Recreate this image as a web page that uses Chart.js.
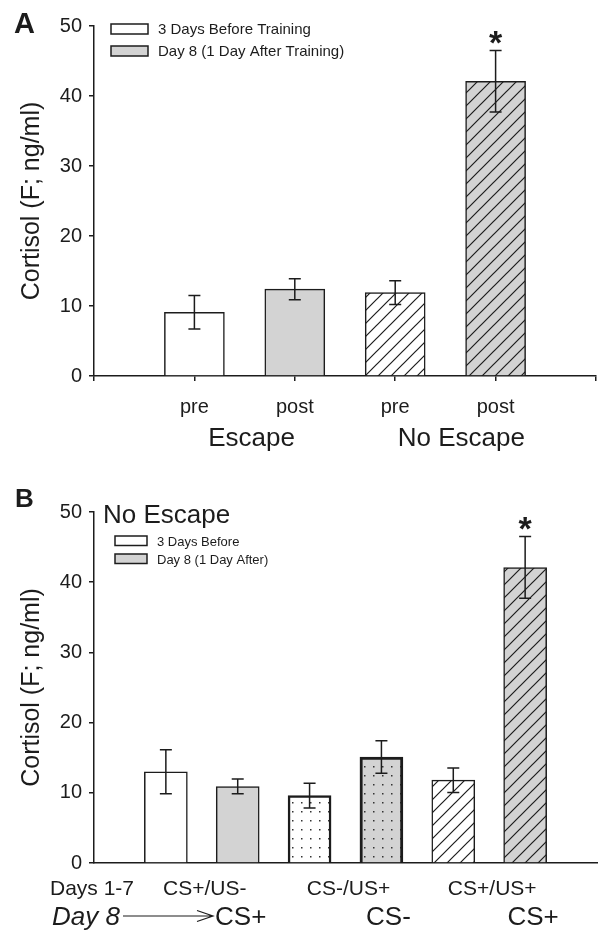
<!DOCTYPE html>
<html>
<head>
<meta charset="utf-8">
<script src="https://cdn.jsdelivr.net/npm/chart.js@4.4.0/dist/chart.umd.min.js"></script>
<style>
  html, body { margin: 0; padding: 0; background: #fff; }
  canvas { display: block; position: absolute; left: 0; }
  #chartA { top: 0; }
  #chartB { top: 465px; }
</style>
</head>
<body>
<canvas id="chartA" width="598" height="465"></canvas>
<canvas id="chartB" width="598" height="465"></canvas>
<script>
// ---- Panel A data ----
const legendA = ['3 Days Before Training', 'Day 8 (1 Day After Training)'];
const tickLabelsA = ['pre', 'post', 'pre', 'post'];
const groupsA = ['Escape', 'No Escape'];
const beforeA = [9.1, 11.9];
const beforeErrA = [2.4, 1.7];
const afterA = [12.4, 42.1];
const afterErrA = [1.5, 4.4];
const starsA = [false, true];

// ---- Panel B data ----
const legendB = ['3 Days Before', 'Day 8 (1 Day After)'];
const conditionsB = ['CS+/US-', 'CS-/US+', 'CS+/US+'];
const testedB = ['CS+', 'CS-', 'CS+'];
const beforeB = [13.0, 9.6, 11.8];
const beforeErrB = [3.15, 1.75, 1.75];
const afterB = [10.9, 15.1, 42.1];
const afterErrB = [1.05, 2.3, 4.4];
const starsB = [false, false, true];

const yTicks = { min: 0, max: 50, step: 10 };

const ink = '#1c1c1c';
const gray = '#d3d3d3';
const white = '#ffffff';
const family = "'Liberation Sans', Arial, Helvetica, sans-serif";
Chart.defaults.font.family = family;
Chart.defaults.color = ink;

// fill patterns
function hatch(bg) {
    const c = document.createElement('canvas');
    c.width = c.height = 13;
    const g = c.getContext('2d');
    g.fillStyle = bg;
    g.fillRect(0, 0, 13, 13);
    g.strokeStyle = ink;
    g.lineWidth = 1.2;
    g.beginPath();
    g.moveTo(0, 13); g.lineTo(13, 0);
    g.moveTo(-4, 4); g.lineTo(4, -4);
    g.moveTo(9, 17); g.lineTo(17, 9);
    g.stroke();
    return g.createPattern(c, 'repeat');
}
function dots(bg) {
    const c = document.createElement('canvas');
    c.width = c.height = 9;
    const g = c.getContext('2d');
    g.fillStyle = bg;
    g.fillRect(0, 0, 9, 9);
    g.fillStyle = '#333';
    g.fillRect(4, 4, 1.5, 1.5);
    return g.createPattern(c, 'repeat');
}

// error bars + significance stars
const errorBars = {
    id: 'errorBars',
    afterDatasetsDraw(chart) {
        const { ctx, scales: { y } } = chart;
        chart.data.datasets.forEach((ds, di) => {
            const meta = chart.getDatasetMeta(di);
            meta.data.forEach((bar, i) => {
                const v = ds.data[i].y, e = ds.errors[i];
                const top = y.getPixelForValue(v + e);
                const bot = y.getPixelForValue(v - e);
                ctx.save();
                ctx.strokeStyle = ink;
                ctx.lineWidth = 1.5;
                ctx.beginPath();
                ctx.moveTo(bar.x, top); ctx.lineTo(bar.x, bot);
                ctx.moveTo(bar.x - 6, top); ctx.lineTo(bar.x + 6, top);
                ctx.moveTo(bar.x - 6, bot); ctx.lineTo(bar.x + 6, bot);
                ctx.stroke();
                if (ds.stars && ds.stars[i]) {
                    ctx.fillStyle = ink;
                    ctx.font = 'bold 34px ' + family;
                    ctx.textAlign = 'center';
                    ctx.textBaseline = 'alphabetic';
                    ctx.fillText('*', bar.x, top + 3);
                }
                ctx.restore();
            });
        });
    }
};

function drawLegend(ctx, datasets, x, ys, boxW, boxH, fontSize) {
    ctx.save();
    ctx.font = fontSize + 'px ' + family;
    ctx.textAlign = 'left';
    ctx.textBaseline = 'alphabetic';
    datasets.forEach((ds, i) => {
        ctx.fillStyle = ds.legendFill;
        ctx.fillRect(x, ys[i], boxW, boxH);
        ctx.strokeStyle = ink;
        ctx.lineWidth = 1.5;
        ctx.strokeRect(x, ys[i], boxW, boxH);
        ctx.fillStyle = ink;
        ctx.fillText(ds.label, x + boxW + 10, ys[i] + boxH);
    });
    ctx.restore();
}

function yScale(title) {
    return {
        min: yTicks.min, max: yTicks.max,
        ticks: { stepSize: yTicks.step, color: ink, font: { size: 20 }, padding: 7 },
        grid: { drawOnChartArea: false, tickLength: 5, color: ink, lineWidth: 1.5 },
        border: { color: ink, width: 1.5 },
        title: { display: true, text: title, color: ink, font: { size: 25 }, padding: { top: 17, bottom: 0 } },
        afterFit: s => { s.width = 94; }
    };
}

// ---- Panel A ----
const panelA = {
    id: 'panelA',
    afterDraw(chart) {
        const { ctx, scales: { x } } = chart;
        ctx.save();
        ctx.fillStyle = ink;
        ctx.font = 'bold 29px ' + family;
        ctx.fillText('A', 14, 33);
        ctx.font = '26px ' + family;
        ctx.textAlign = 'center';
        const nudge = [7, 16];
        groupsA.forEach((g, i) => {
            ctx.fillText(g, x.getPixelForValue(2 * i + 1.5) + nudge[i], 446);
        });
        ctx.restore();
        drawLegend(ctx, chart.data.datasets, 111, [24, 46], 37, 10, 15);
    }
};

new Chart(document.getElementById('chartA'), {
    type: 'bar',
    data: {
        datasets: [{
            label: legendA[0],
            data: beforeA.map((v, i) => ({ x: 2 * i + 1, y: v })),
            errors: beforeErrA,
            backgroundColor: [white, hatch(white)],
            legendFill: white
        }, {
            label: legendA[1],
            data: afterA.map((v, i) => ({ x: 2 * i + 2, y: v })),
            errors: afterErrA,
            stars: starsA,
            backgroundColor: [gray, hatch(gray)],
            legendFill: gray
        }]
    },
    options: {
        responsive: false,
        animation: false,
        events: [],
        layout: { padding: { top: 26, right: 2, left: 0, bottom: 0 } },
        datasets: { bar: { barThickness: 60, grouped: false, borderColor: ink, borderWidth: 1.5 } },
        plugins: { legend: { display: false }, tooltip: { enabled: false } },
        scales: {
            x: {
                type: 'linear', min: 0, max: 5, offset: false,
                ticks: {
                    stepSize: 1, autoSkip: false, maxRotation: 0, color: ink,
                    font: { size: 20 }, padding: 14,
                    callback: v => tickLabelsA[v - 1] ?? ''
                },
                grid: { drawOnChartArea: false, offset: false, tickLength: 5, color: ink, lineWidth: 1.5 },
                border: { color: ink, width: 1.5 },
                afterFit: s => { s.height = 89; s.paddingLeft = 0; s.paddingRight = 0; }
            },
            y: yScale('Cortisol (F; ng/ml)')
        }
    },
    plugins: [errorBars, panelA]
});

// ---- Panel B ----
const panelB = {
    id: 'panelB',
    afterDraw(chart) {
        const { ctx, scales: { x } } = chart;
        ctx.save();
        ctx.fillStyle = ink;
        ctx.textBaseline = 'alphabetic';
        ctx.font = 'bold 26px ' + family;
        ctx.fillText('B', 15, 42);
        ctx.font = '26px ' + family;
        ctx.fillText('No Escape', 103, 57.5);

        ctx.font = '21px ' + family;
        ctx.fillText('Days 1-7', 50, 430);
        ctx.textAlign = 'center';
        conditionsB.forEach((c, i) => {
            ctx.fillText(c, x.getPixelForValue(2 * i + 1.5) + 3, 430);
        });
        ctx.font = '26px ' + family;
        const nudge = [3, 7, 8];
        testedB.forEach((c, i) => {
            ctx.fillText(c, x.getPixelForValue(2 * i + 2) + nudge[i], 460);
        });
        ctx.textAlign = 'left';
        ctx.font = 'italic 26px ' + family;
        ctx.fillText('Day 8', 52, 460);
        // arrow
        ctx.strokeStyle = ink;
        ctx.lineWidth = 1.2;
        ctx.beginPath();
        ctx.moveTo(123, 451); ctx.lineTo(213, 451);
        ctx.moveTo(197, 445.5); ctx.lineTo(213, 451); ctx.lineTo(197, 456.5);
        ctx.stroke();
        ctx.restore();
        drawLegend(ctx, chart.data.datasets, 115, [71, 89], 32, 9.5, 13);
    }
};

new Chart(document.getElementById('chartB'), {
    type: 'bar',
    data: {
        datasets: [{
            label: legendB[0],
            data: beforeB.map((v, i) => ({ x: 2 * i + 1, y: v })),
            errors: beforeErrB,
            backgroundColor: [white, dots(white), hatch(white)],
            borderWidth: [1.5, 2.5, 1.5],
            legendFill: white
        }, {
            label: legendB[1],
            data: afterB.map((v, i) => ({ x: 2 * i + 2, y: v })),
            errors: afterErrB,
            stars: starsB,
            backgroundColor: [gray, dots(gray), hatch(gray)],
            borderWidth: [1.5, 3, 1.5],
            legendFill: gray
        }]
    },
    options: {
        responsive: false,
        animation: false,
        events: [],
        layout: { padding: { top: 47, right: 1, left: 0, bottom: 0 } },
        datasets: { bar: { barThickness: 43, grouped: false, borderColor: ink } },
        plugins: { legend: { display: false }, tooltip: { enabled: false } },
        scales: {
            x: {
                type: 'linear', min: 0, max: 7, offset: false,
                ticks: { display: false },
                grid: { drawOnChartArea: false, drawTicks: false, offset: false },
                border: { color: ink, width: 1.5 },
                afterFit: s => { s.height = 67; }
            },
            y: yScale('Cortisol (F; ng/ml)')
        }
    },
    plugins: [errorBars, panelB]
});
</script>
</body>
</html>
